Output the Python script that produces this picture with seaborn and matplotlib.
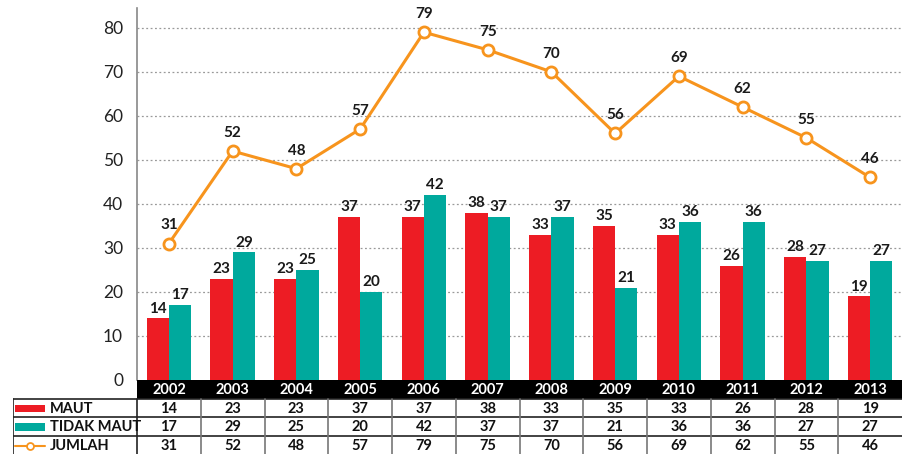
import numpy as np
import pandas as pd
import matplotlib
matplotlib.use("Agg")
import matplotlib.pyplot as plt
import seaborn as sns

years = ["2002", "2003", "2004", "2005", "2006", "2007", "2008", "2009", "2010", "2011", "2012", "2013"]
maut = [14, 23, 23, 37, 37, 38, 33, 35, 33, 26, 28, 19]
tidak_maut = [17, 29, 25, 20, 42, 37, 37, 21, 36, 36, 27, 27]
jumlah = [31, 52, 48, 57, 79, 75, 70, 56, 69, 62, 55, 46]
series_names = ["MAUT", "TIDAK MAUT", "JUMLAH"]

RED = "#ED1C24"
TEAL = "#00A99D"
ORANGE = "#F7941D"

sns.set_style("white")
plt.rcParams["font.family"] = ["Lato", "DejaVu Sans"]

W, H = 908, 454
fig = plt.figure(figsize=(W / 100, H / 100), dpi=100)

def px_axes(x0, y0, x1, y1):
    return fig.add_axes([x0 / W, 1 - y1 / H, (x1 - x0) / W, (y1 - y0) / H])

# main chart
ax = px_axes(137, 8, 902, 380)
df = pd.DataFrame({
    "year": years * 2,
    "value": maut + tidak_maut,
    "kind": [series_names[0]] * len(years) + [series_names[1]] * len(years),
})
sns.barplot(data=df, x="year", y="value", hue="kind", palette=[RED, TEAL],
            width=0.70, gap=0, saturation=1, linewidth=0, ax=ax, legend=False)
sns.lineplot(x=np.arange(len(years)), y=jumlah, color=ORANGE, lw=2.2, marker="o",
             markersize=8, markerfacecolor="white", markeredgecolor=ORANGE,
             markeredgewidth=2, ax=ax, zorder=5)

for cont in ax.containers:
    ax.bar_label(cont, padding=2, fontsize=11, fontweight="bold", color="#1a1a1a")
for i, v in enumerate(jumlah):
    ax.annotate(str(v), (i, v), xytext=(0, 8), textcoords="offset points",
                ha="center", va="bottom", fontsize=11, fontweight="bold", color="#1a1a1a")

ax.set_xlim(-0.5, len(years) - 0.5)
ax.set_ylim(0, 84.5)
ax.set_yticks(range(0, 81, 10))
ax.set_yticklabels([str(t) for t in range(0, 81, 10)], fontsize=12.5, color="#222222")
ax.tick_params(axis="y", length=0, pad=10)
ax.set_xticks([])
ax.set_xlabel("")
ax.set_ylabel("")
for y in range(10, 81, 10):
    ax.axhline(y, color="#999999", lw=0.9, ls=(0, (1.5, 2)), zorder=0)
for s in ["top", "right", "bottom"]:
    ax.spines[s].set_visible(False)
ax.spines["left"].set_color("#888888")
ax.spines["left"].set_linewidth(1.2)

# data table
tab = px_axes(13, 380, 902, 454)
unit = 765 / 12
left = -0.5 - 124 / unit
tab.set_xlim(left, 11.5)
tab.set_ylim(4, 0)
tab.axis("off")
tab.fill_between([-0.5, 11.5], 0, 1, color="black", lw=0)
for i, yr in enumerate(years):
    tab.text(i, 0.52, yr, ha="center", va="center", color="white",
             fontsize=10.5, fontweight="bold")
rows = [maut, tidak_maut, jumlah]
for r, vals in enumerate(rows):
    for i, v in enumerate(vals):
        tab.text(i, r + 1.55, str(v), ha="center", va="center", color="#111111",
                 fontsize=10.5, fontweight="bold")
    tab.text(left + 0.58, r + 1.55, series_names[r], ha="left", va="center",
             color="#111111", fontsize=10.5, fontweight="bold")
# legend keys
tab.fill_between([left + 0.03, left + 0.5], 1.35, 1.75, color=RED, lw=0)
tab.fill_between([left + 0.03, left + 0.5], 2.35, 2.75, color=TEAL, lw=0)
tab.plot([left + 0.03, left + 0.5], [3.55, 3.55], color=ORANGE, lw=1.5)
tab.plot([left + 0.265], [3.55], marker="o", ms=5, mfc="white", mec=ORANGE, mew=1.3)
# grid lines
for y in [1.05, 2, 3]:
    tab.plot([left, 11.5], [y, y], color="#222222", lw=1.2)
tab.plot([left, left], [1.05, 4], color="#222222", lw=1.2)
tab.plot([-0.5, -0.5], [1.05, 4], color="#222222", lw=1.2)
for i in range(1, 12):
    tab.plot([i - 0.5, i - 0.5], [1.05, 4], color="#777777", lw=1.2)

fig.savefig("out.png", dpi=100)
